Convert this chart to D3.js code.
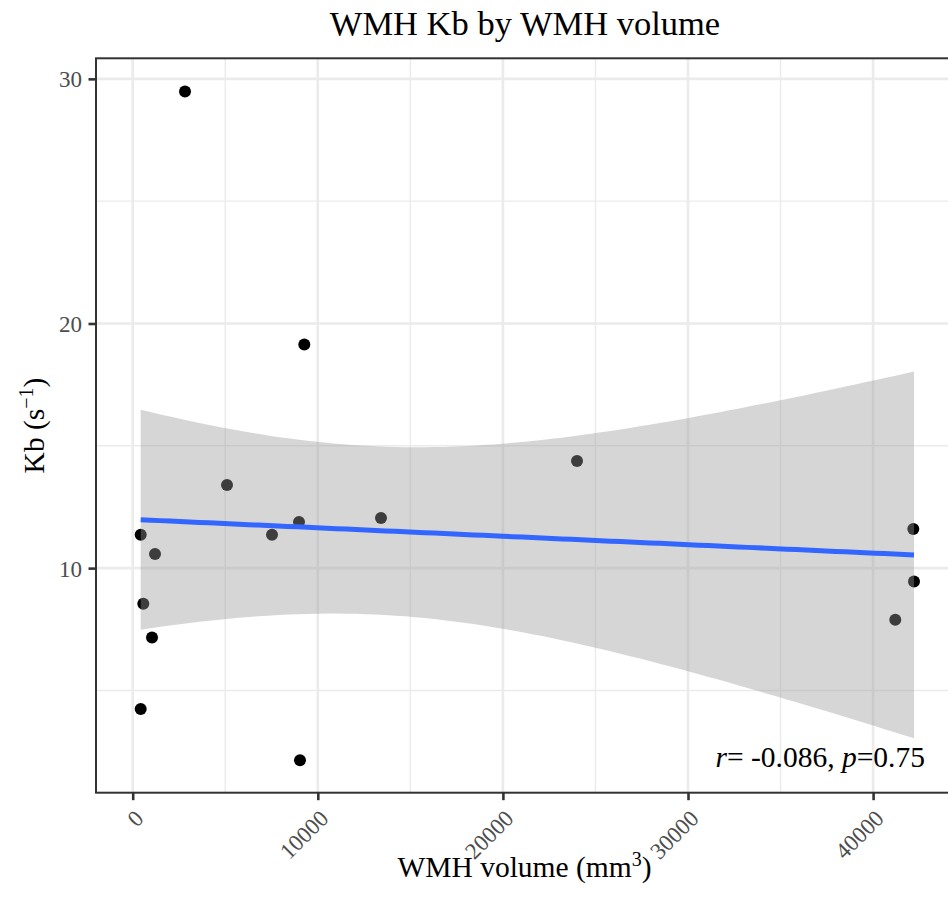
<!DOCTYPE html>
<html>
<head>
<meta charset="utf-8">
<script src="https://cdn.jsdelivr.net/npm/d3@7"></script>
<style>
  html, body { margin: 0; padding: 0; background: #fff; }
  svg { display: block; font-family: "Liberation Serif", "Times New Roman", serif; }
</style>
</head>
<body>
<svg id="chart" width="948" height="906"></svg>
<script>
// WMH volume (mm^3) and Kb (s^-1) for each subject
const wmhVolume = [2826, 9270, 432, 1205, 573, 1043, 5095, 7526, 8985, 13414, 24004, 42172, 42210, 41199, 432, 9038];
const kb        = [29.48, 19.14, 11.36, 10.58, 8.54, 7.16, 13.40, 11.36, 11.89, 12.05, 14.38, 11.60, 9.45, 7.89, 4.24, 2.15];

const xTicks = [0, 10000, 20000, 30000, 40000];
const xMinorTicks = [5000, 15000, 25000, 35000];
const yTicks = [10, 20, 30];
const yMinorTicks = [5, 15, 25];

const titleText = "WMH Kb by WMH volume";
const statR = "-0.086";
const statP = "0.75";

// two-sided 95% t quantile, n - 2 = 14 degrees of freedom
const T_CRIT = 2.1448;

const svg = d3.select("#chart");
const panel = { left: 96, right: 953, top: 58.3, bottom: 792.7 };

const x = d3.scaleLinear().domain([-1983, 44317]).range([panel.left, panel.right]);
const y = d3.scaleLinear().domain([0.82, 30.84]).range([panel.bottom, panel.top]);

const gridMajor = "#EBEBEB";
const ink = "#333333";
const tickText = "#4D4D4D";

// minor grid
svg.append("g").selectAll("line.vx").data(xMinorTicks).join("line")
  .attr("x1", d => x(d)).attr("x2", d => x(d))
  .attr("y1", panel.top).attr("y2", panel.bottom)
  .attr("stroke", gridMajor).attr("stroke-width", 1.4);
svg.append("g").selectAll("line.hy").data(yMinorTicks).join("line")
  .attr("y1", d => y(d)).attr("y2", d => y(d))
  .attr("x1", panel.left).attr("x2", panel.right)
  .attr("stroke", gridMajor).attr("stroke-width", 1.4);
// major grid
svg.append("g").selectAll("line").data(xTicks).join("line")
  .attr("x1", d => x(d)).attr("x2", d => x(d))
  .attr("y1", panel.top).attr("y2", panel.bottom)
  .attr("stroke", gridMajor).attr("stroke-width", 2.6);
svg.append("g").selectAll("line").data(yTicks).join("line")
  .attr("y1", d => y(d)).attr("y2", d => y(d))
  .attr("x1", panel.left).attr("x2", panel.right)
  .attr("stroke", gridMajor).attr("stroke-width", 2.6);

// points
const pts = wmhVolume.map((v, i) => ({ v, k: kb[i] }));
svg.append("g").selectAll("circle").data(pts).join("circle")
  .attr("cx", d => x(d.v)).attr("cy", d => y(d.k)).attr("r", 6)
  .attr("fill", "#000");

// least-squares fit with 95% confidence band
const n = pts.length;
const mx = d3.mean(wmhVolume), my = d3.mean(kb);
const sxx = d3.sum(wmhVolume, v => (v - mx) ** 2);
const sxy = d3.sum(pts, d => (d.v - mx) * (d.k - my));
const slope = sxy / sxx;
const intercept = my - slope * mx;
const sse = d3.sum(pts, d => (d.k - (intercept + slope * d.v)) ** 2);
const s = Math.sqrt(sse / (n - 2));
const [xLo, xHi] = d3.extent(wmhVolume);
const fit = d3.range(80).map(i => {
  const xv = xLo + (xHi - xLo) * i / 79;
  const yh = intercept + slope * xv;
  const se = s * Math.sqrt(1 / n + (xv - mx) ** 2 / sxx);
  return { xv, yh, lo: yh - T_CRIT * se, hi: yh + T_CRIT * se };
});

svg.append("path").datum(fit)
  .attr("d", d3.area().x(d => x(d.xv)).y0(d => y(d.lo)).y1(d => y(d.hi)))
  .attr("fill", "#999999").attr("fill-opacity", 0.4);
svg.append("path").datum(fit)
  .attr("d", d3.line().x(d => x(d.xv)).y(d => y(d.yh)))
  .attr("fill", "none").attr("stroke", "#3366FF").attr("stroke-width", 5);

// statistics annotation
const ann = svg.append("text")
  .attr("x", 925).attr("y", 766.5).attr("text-anchor", "end")
  .attr("font-size", 29.5).attr("fill", "#000");
ann.append("tspan").attr("font-style", "italic").text("r");
ann.append("tspan").text("= " + statR + ", ");
ann.append("tspan").attr("font-style", "italic").text("p");
ann.append("tspan").text("=" + statP);

// panel border
svg.append("rect")
  .attr("x", panel.left).attr("y", panel.top)
  .attr("width", panel.right - panel.left).attr("height", panel.bottom - panel.top)
  .attr("fill", "none").attr("stroke", ink).attr("stroke-width", 2);

// x axis
const xAxis = svg.append("g").attr("transform", `translate(0,${panel.bottom})`)
  .call(d3.axisBottom(x).tickValues(xTicks).tickSize(7.5).tickSizeOuter(0).tickFormat(d3.format("d")));
xAxis.select(".domain").remove();
xAxis.selectAll(".tick line").attr("stroke", ink).attr("stroke-width", 2.6);
xAxis.selectAll(".tick text")
  .attr("font-family", "Liberation Serif").attr("font-size", 23).attr("fill", tickText)
  .attr("text-anchor", "end").attr("y", 0).attr("dy", "0.71em")
  .attr("transform", "translate(0,15.5) rotate(-45)");

// y axis
const yAxis = svg.append("g").attr("transform", `translate(${panel.left},0)`)
  .call(d3.axisLeft(y).tickValues(yTicks).tickSize(7.5).tickSizeOuter(0).tickFormat(d3.format("d")));
yAxis.select(".domain").remove();
yAxis.selectAll(".tick line").attr("stroke", ink).attr("stroke-width", 2.6);
yAxis.selectAll(".tick text")
  .attr("font-family", "Liberation Serif").attr("font-size", 23).attr("fill", tickText)
  .attr("x", -14).attr("dy", "0.35em");

// titles
svg.append("text").attr("x", 525).attr("y", 34.5).attr("text-anchor", "middle")
  .attr("font-size", 34.5).attr("fill", "#000").text(titleText);

const xt = svg.append("text").attr("x", 524.5).attr("y", 877).attr("text-anchor", "middle")
  .attr("font-size", 29.5).attr("fill", "#000");
xt.append("tspan").text("WMH volume (mm");
xt.append("tspan").attr("font-size", 20).attr("dy", -11).text("3");
xt.append("tspan").attr("dy", 11).text(")");

const yt = svg.append("text")
  .attr("transform", `translate(44,${(panel.top + panel.bottom) / 2}) rotate(-90)`)
  .attr("text-anchor", "middle").attr("font-size", 29.5).attr("fill", "#000");
yt.append("tspan").text("Kb (s");
yt.append("tspan").attr("font-size", 20).attr("dy", -11).text("\u22121");
yt.append("tspan").attr("dy", 11).text(")");
</script>
</body>
</html>
